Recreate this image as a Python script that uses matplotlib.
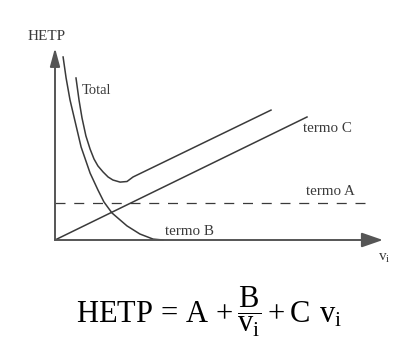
import matplotlib
matplotlib.use("Agg")
import matplotlib.pyplot as plt

plt.rcParams['font.family'] = ['Liberation Serif', 'DejaVu Serif']
plt.rcParams['mathtext.fontset'] = 'custom'
plt.rcParams['mathtext.rm'] = 'Liberation Serif'
plt.rcParams['mathtext.it'] = 'Liberation Serif:italic'

# curves (arbitrary units, origin at the axes corner)
total_x = [0.70, 0.80, 0.90, 1.03, 1.17, 1.30, 1.43, 1.60, 1.77, 1.93, 2.17, 2.40, 2.60, 7.20]
total_y = [5.40, 4.67, 4.07, 3.47, 3.03, 2.70, 2.47, 2.27, 2.10, 2.00, 1.93, 1.95, 2.10, 4.33]

termo_b_x = [0.27, 0.37, 0.50, 0.87, 1.17, 1.43, 1.63, 1.90, 2.40, 2.83, 3.27, 3.60]
termo_b_y = [6.10, 5.40, 4.67, 3.10, 2.23, 1.67, 1.27, 0.90, 0.47, 0.20, 0.03, 0.00]

termo_c_x = [0.0, 8.40]
termo_c_y = [0.0, 4.10]

termo_a_x = [0.0, 10.57]
termo_a_y = [1.23, 1.23]

x_axis_end = 10.93
y_axis_end = 6.40

line_col = '#3a3a3a'
axis_col = '#555555'
text_col = '#3a3a3a'

fig = plt.figure(figsize=(4.13, 3.61), dpi=100)
ax = fig.add_axes([0, 0, 1, 1])
ax.set_xlim(-55 / 30, (413 - 55) / 30)
ax.set_ylim((240 - 361) / 30, 240 / 30)
ax.axis('off')

ax.plot(total_x, total_y, color=line_col, lw=1.1, solid_joinstyle='round')
ax.plot(termo_b_x, termo_b_y, color=line_col, lw=1.1, solid_joinstyle='round')
ax.plot(termo_c_x, termo_c_y, color=line_col, lw=1.1)
ax.plot(termo_a_x, termo_a_y, color=line_col, lw=0.9, dashes=(8, 7))

# axes with arrow heads
ax.annotate('', xy=(0, y_axis_end), xytext=(0, 0),
            arrowprops=dict(arrowstyle='-|>,head_length=1.1,head_width=0.3',
                            lw=1.4, color=axis_col, shrinkA=0, shrinkB=0))
ax.annotate('', xy=(x_axis_end, 0), xytext=(0, 0),
            arrowprops=dict(arrowstyle='-|>,head_length=1.3,head_width=0.45',
                            lw=1.4, color=axis_col, shrinkA=0, shrinkB=0))

ax.text(-0.27, 6.77, 'HETP', fontsize=11, color=text_col, ha='center', va='center')
ax.text(0.90, 5.00, 'Total', fontsize=10.5, color=text_col, ha='left', va='center')
ax.text(8.27, 3.70, 'termo C', fontsize=10.8, color=text_col, ha='left', va='center')
ax.text(8.37, 1.63, 'termo A', fontsize=10.8, color=text_col, ha='left', va='center')
ax.text(3.67, 0.28, 'termo B', fontsize=10.8, color=text_col, ha='left', va='center')
ax.text(10.97, -0.63, r'$\mathrm{v}_\mathrm{i}$', fontsize=11, color=text_col,
        ha='center', va='center')

ax.text(5.15, -2.40,
        r'$\mathrm{HETP}\, = \,\mathrm{A}\, + \dfrac{\mathrm{B}}{\mathrm{v}_\mathrm{i}} + \mathrm{C}\;\, \mathrm{v}_\mathrm{i}$',
        fontsize=22, color='black', ha='center', va='center')

fig.savefig('out.png', dpi=100)
